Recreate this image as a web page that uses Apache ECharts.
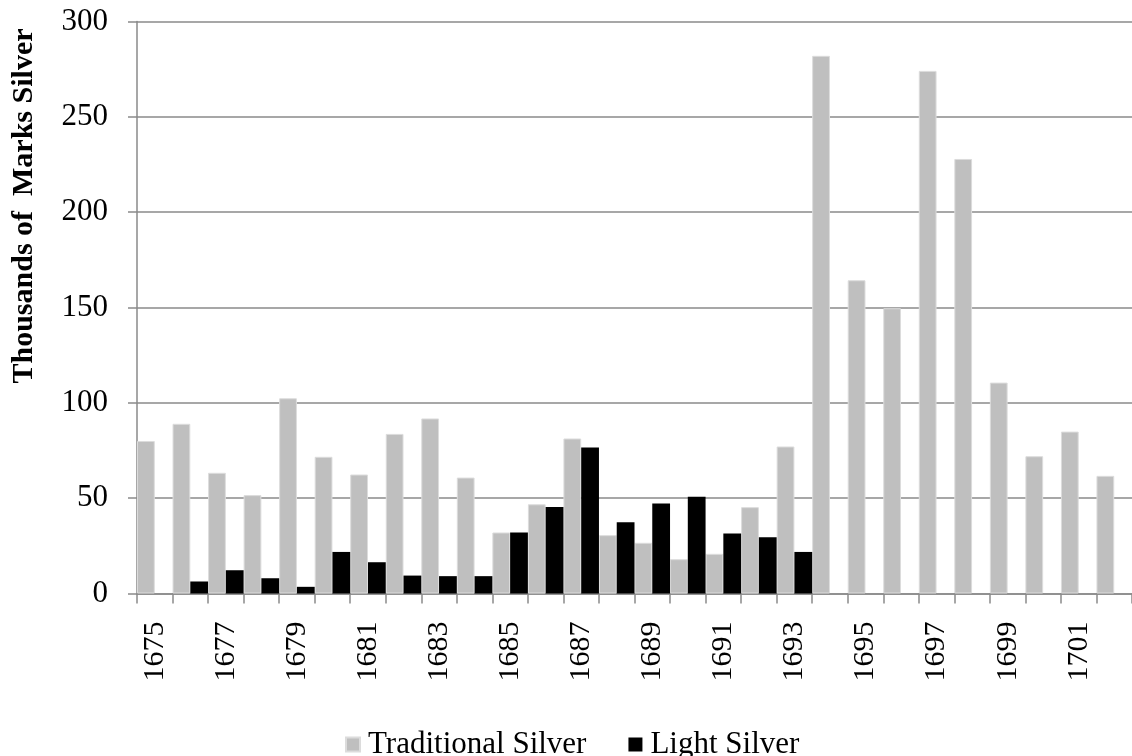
<!DOCTYPE html>
<html>
<head>
<meta charset="utf-8">
<style>
  html, body { margin: 0; padding: 0; background: #ffffff; }
  #chart { width: 1132px; height: 756px; }
</style>
<script src="https://cdn.jsdelivr.net/npm/echarts@6/dist/echarts.min.js"></script>
</head>
<body>
<div id="chart"></div>
<script>
const years = ['1675','1676','1677','1678','1679','1680','1681','1682','1683','1684',
  '1685','1686','1687','1688','1689','1690','1691','1692','1693','1694',
  '1695','1696','1697','1698','1699','1700','1701','1702'];
const traditionalSilver = [80.0, 89.0, 63.3, 51.6, 102.4, 71.7, 62.4, 83.7, 91.8, 60.8,
  32.0, 46.8, 81.3, 30.6, 26.6, 18.0, 20.8, 45.3, 77.1, 282.0,
  164.3, 149.6, 274.1, 227.9, 110.6, 72.0, 84.9, 61.7];
const lightSilver = [null, 6.3, 12.2, 8.0, 3.5, 21.8, 16.4, 9.4, 9.1, 9.1,
  32.0, 45.4, 76.6, 37.4, 47.2, 50.7, 31.5, 29.5, 21.8, null,
  null, null, null, null, null, null, null, null];
const yTicks = { min: 0, max: 300, interval: 50 };
const seriesNames = ['Traditional Silver', 'Light Silver'];
const yTitle = 'Thousands of  Marks Silver';

const FONT = "'Liberation Serif', 'Times New Roman', serif";
const chart = echarts.init(document.getElementById('chart'), null, { renderer: 'canvas' });
chart.setOption({
  animation: false,
  backgroundColor: '#ffffff',
  textStyle: { fontFamily: FONT },
  grid: { left: 137, top: 21.5, width: 999, height: 572 },
  legend: {
    data: seriesNames,
    left: 340,
    top: 724,
    itemWidth: 14,
    itemHeight: 14,
    itemGap: 42,
    icon: 'rect',
    textStyle: { fontFamily: FONT, fontSize: 31, color: '#000', padding: [0, 0, 16, 3] }
  },
  graphic: [{
    type: 'text',
    x: 24,
    y: 206,
    rotation: Math.PI / 2,
    style: {
      text: yTitle,
      font: 'bold 30px ' + FONT,
      fill: '#000',
      textAlign: 'center',
      textVerticalAlign: 'middle'
    }
  }],
  xAxis: {
    type: 'category',
    data: years,
    boundaryGap: true,
    axisLine: { lineStyle: { color: '#8a8a8a', width: 1.5 } },
    axisTick: { show: true, interval: 0, length: 10, lineStyle: { color: '#8a8a8a', width: 1.5 } },
    axisLabel: {
      interval: 1,
      rotate: 90,
      margin: 28,
      fontFamily: FONT,
      fontSize: 30,
      color: '#000'
    },
    splitLine: { show: false }
  },
  yAxis: {
    type: 'value',
    min: yTicks.min,
    max: yTicks.max,
    interval: yTicks.interval,
    axisLine: { show: true, lineStyle: { color: '#8a8a8a', width: 1.5 } },
    axisTick: { show: true, length: 9, lineStyle: { color: '#8a8a8a', width: 1.5 } },
    axisLabel: { margin: 29, fontFamily: FONT, fontSize: 31, color: '#000' },
    splitLine: { show: true, lineStyle: { color: '#8a8a8a', width: 1.5 } }
  },
  series: [{
    name: seriesNames[0],
    type: 'bar',
    data: traditionalSilver,
    barGap: '0%',
    barCategoryGap: '0%',
    itemStyle: { color: '#bfbfbf', borderColor: '#dcdcdc', borderWidth: 1 }
  }, {
    name: seriesNames[1],
    type: 'bar',
    data: lightSilver,
    barGap: '0%',
    barCategoryGap: '0%',
    itemStyle: { color: '#000000' }
  }]
});
</script>
</body>
</html>
